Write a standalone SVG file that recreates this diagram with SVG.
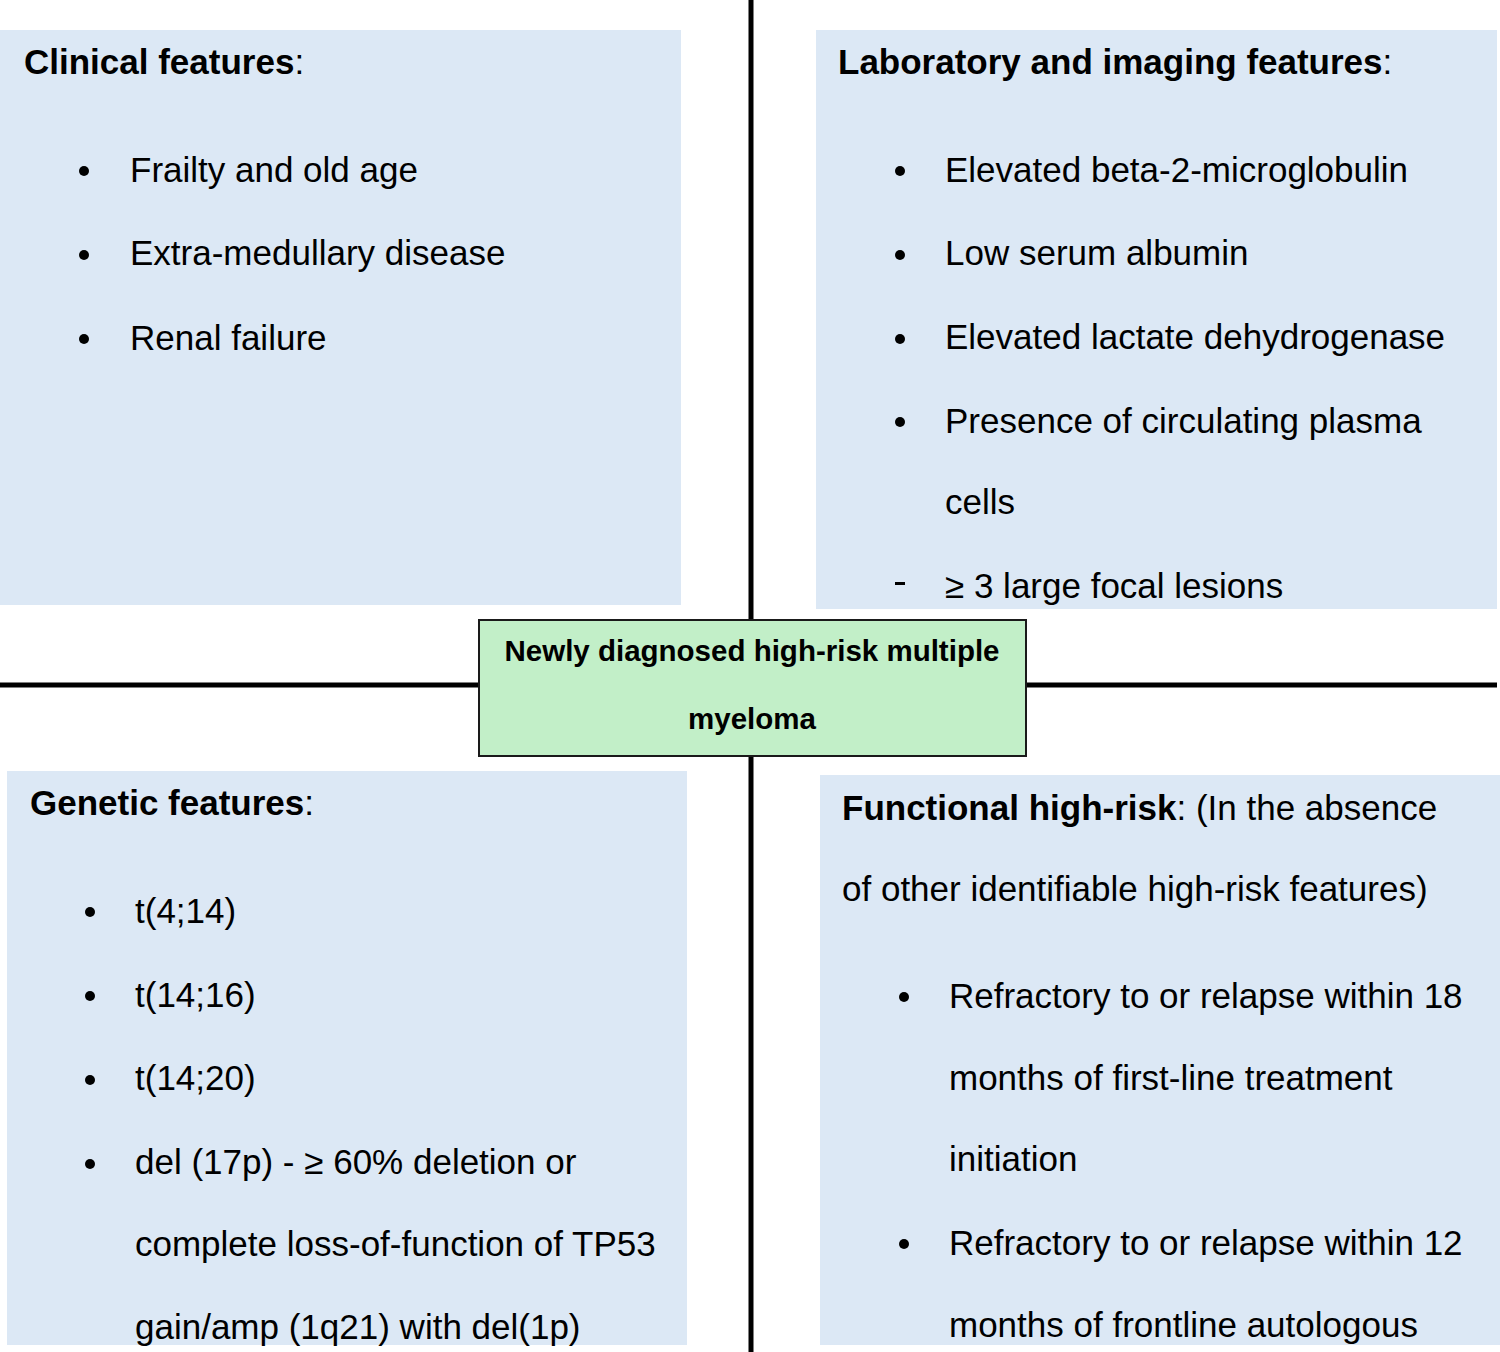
<svg xmlns="http://www.w3.org/2000/svg" width="1500" height="1352" viewBox="0 0 1500 1352">
<style>
.box{fill:#dce8f5}
text{font-family:"Liberation Sans",Arial,sans-serif;font-size:35px;fill:#000}
.b{font-weight:bold}
.c{font-size:29.5px;font-weight:bold}
.ln{stroke:#000;stroke-width:5}
</style>
<rect width="1500" height="1352" fill="#fff"/>
<g id="connectors">
<line class="ln" x1="751" y1="0" x2="751" y2="620"/>
<line class="ln" x1="751" y1="756" x2="751" y2="1352"/>
<line class="ln" x1="0" y1="685" x2="479" y2="685"/>
<line class="ln" x1="1026" y1="685" x2="1497" y2="685"/>
</g>
<g id="clinical">
<rect class="box" x="0" y="30" width="681" height="575"/>
<text x="24" y="74"><tspan class="b">Clinical features</tspan>:</text>
<circle cx="84" cy="171" r="5"/><text x="130" y="182">Frailty and old age</text>
<circle cx="84" cy="255" r="5"/><text x="130" y="265">Extra-medullary disease</text>
<circle cx="84" cy="339" r="5"/><text x="130" y="350">Renal failure</text>
</g>
<g id="lab">
<rect class="box" x="816" y="30" width="681" height="579"/>
<text x="838" y="74"><tspan class="b">Laboratory and imaging features</tspan>:</text>
<circle cx="900" cy="171" r="5"/><text x="945" y="182">Elevated beta-2-microglobulin</text>
<circle cx="900" cy="255" r="5"/><text x="945" y="265">Low serum albumin</text>
<circle cx="900" cy="339" r="5"/><text x="945" y="349">Elevated lactate dehydrogenase</text>
<circle cx="900" cy="422" r="5"/><text x="945" y="433">Presence of circulating plasma</text>
<text x="945" y="514">cells</text>
<rect x="895" y="582" width="10" height="3"/><text x="945" y="598">≥ 3 large focal lesions</text>
</g>
<g id="genetic">
<rect class="box" x="7" y="771" width="680" height="574"/>
<text x="30" y="815"><tspan class="b">Genetic features</tspan>:</text>
<circle cx="90" cy="912" r="5"/><text x="135" y="923">t(4;14)</text>
<circle cx="90" cy="996" r="5"/><text x="135" y="1007">t(14;16)</text>
<circle cx="90" cy="1080" r="5"/><text x="135" y="1090">t(14;20)</text>
<circle cx="90" cy="1164" r="5"/><text x="135" y="1174">del (17p) - ≥ 60% deletion or</text>
<text x="135" y="1256">complete loss-of-function of TP53</text>
<text x="135" y="1339">gain/amp (1q21) with del(1p)</text>
</g>
<g id="functional">
<rect class="box" x="820" y="775" width="680" height="570"/>
<text x="842" y="820"><tspan class="b">Functional high-risk</tspan>: (In the absence</text>
<text x="842" y="901">of other identifiable high-risk features)</text>
<circle cx="904" cy="997" r="5"/><text x="949" y="1008">Refractory to or relapse within 18</text>
<text x="949" y="1090">months of first-line treatment</text>
<text x="949" y="1171">initiation</text>
<circle cx="904" cy="1244" r="5"/><text x="949" y="1255">Refractory to or relapse within 12</text>
<text x="949" y="1337">months of frontline autologous</text>
</g>
<g id="center">
<rect x="479" y="620" width="547" height="136" fill="#c2efc8" stroke="#1a1a1a" stroke-width="2"/>
<text class="c" x="752" y="661" text-anchor="middle">Newly diagnosed high-risk multiple</text>
<text class="c" x="752" y="729" text-anchor="middle">myeloma</text>
</g>
</svg>
